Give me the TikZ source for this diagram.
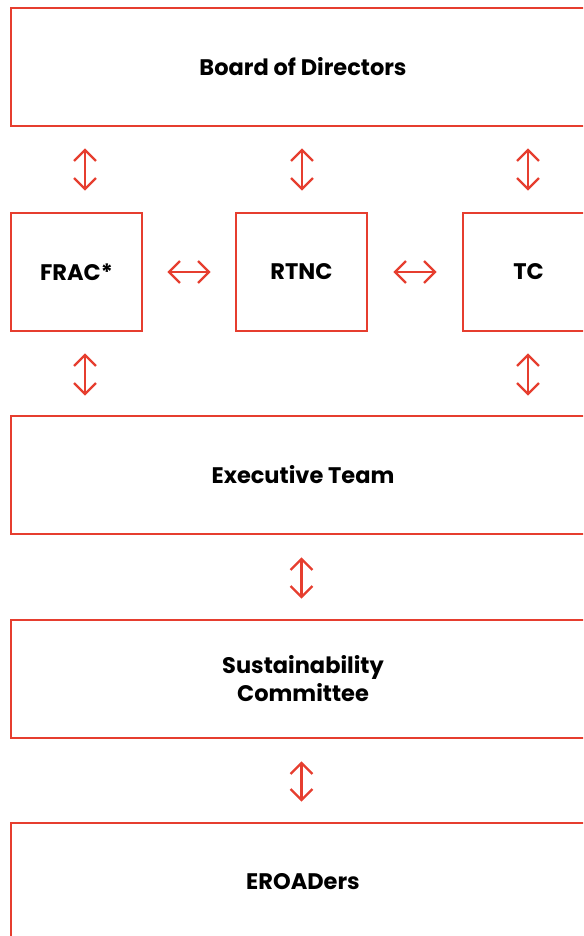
\documentclass[tikz,border=0pt]{standalone}
\usepackage{fontspec}
\setmainfont{Poppins}
\definecolor{linkRed}{RGB}{230, 62, 47}
\usetikzlibrary{arrows.meta, positioning, calc}

\tikzset{
    orgbox/.style={draw=linkRed, line width=2.7pt, fill=white, inner sep=0pt,
        minimum height=118pt, font=\fontsize{22.5}{28}\selectfont\bfseries, align=center},
    wide/.style={orgbox, minimum width=584pt},
    narrow/.style={orgbox, minimum width=131pt},
    link/.style={draw=linkRed, line width=2.3pt, {Straight Barb[length=11pt, width=22pt]}-{Straight Barb[length=11pt, width=22pt]}},
}

\begin{document}
\begin{tikzpicture}[x=1pt, y=-1pt]
                \useasboundingbox (0,0) rectangle (583,936);
                \clip (0,0) rectangle (583,936);

                % Board on top
                \node[wide] (board) at (303,67) {Board of Directors};

                % Committees
                \node[narrow] (frac) at (76.5,272) {FRAC*};
                \node[narrow] (rtnc) at (301.5,272) {RTNC};
                \node[narrow] (tc) at (528.5,272) {TC};

                % Management levels
                \node[wide] (exec) at (303,475) {Executive Team};
                \node[wide] (sust) at (303,679) {Sustainability\\Committee};
                \node[wide] (staff) at (303,882) {EROADers};

                % Board <-> committees
                \draw[link, shorten <=21pt, shorten >=21pt] ([xshift=8.5pt]frac.north |- board.south) -- ([xshift=8.5pt]frac.north);
                \draw[link, shorten <=21pt, shorten >=21pt] ([xshift=0.5pt]rtnc.north |- board.south) -- ([xshift=0.5pt]rtnc.north);
                \draw[link, shorten <=21pt, shorten >=21pt] ([xshift=-0.5pt]tc.north |- board.south) -- ([xshift=-0.5pt]tc.north);

                % Between committees
                \draw[link, shorten <=24pt, shorten >=24pt] (frac.east) -- (rtnc.west);
                \draw[link, shorten <=25pt, shorten >=25pt] (rtnc.east) -- (tc.west);

                % Committees <-> executive
                \draw[link, shorten <=21pt, shorten >=19pt] ([xshift=8.5pt]frac.south) -- ([xshift=8.5pt]frac.south |- exec.north);
                \draw[link, shorten <=21pt, shorten >=19pt] ([xshift=-0.5pt]tc.south) -- ([xshift=-0.5pt]tc.south |- exec.north);

                % Down the chain
                \draw[link, shorten <=22pt, shorten >=20pt] (exec.south -| rtnc) -- (sust.north -| rtnc);
                \draw[link, shorten <=22pt, shorten >=20pt] (sust.south -| rtnc) -- (staff.north -| rtnc);
\end{tikzpicture}
\end{document}
